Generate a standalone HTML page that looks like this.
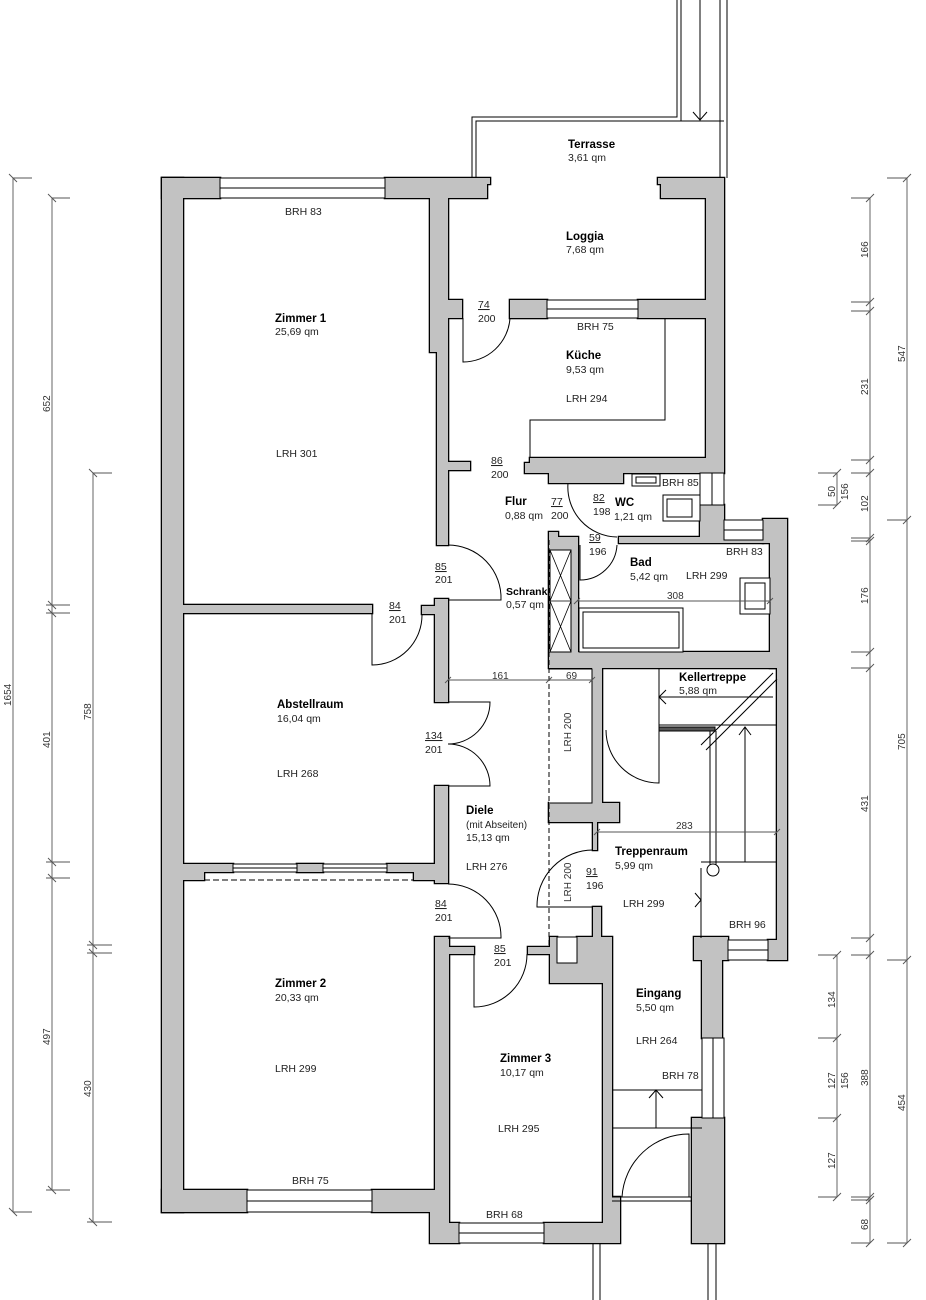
<!DOCTYPE html>
<html><head><meta charset="utf-8"><style>
html,body{margin:0;padding:0;background:#fff}
svg{display:block}
text{font-family:"Liberation Sans",sans-serif;font-size:10.5px;fill:#222}
.b{font-weight:bold;font-size:11.5px;fill:#000}
.d{font-size:10px;fill:#333}
</style></head><body>
<svg width="926" height="1300" viewBox="0 0 926 1300" xmlns="http://www.w3.org/2000/svg">
<defs>
<g id="walls">
<rect x="162" y="178" width="21" height="1034"/>
<rect x="162" y="178" width="58" height="20"/>
<polygon points="385,178 490,178 490,184 487,184 487,198 448,198 448,300 462,300 462,318 448,318 448,545 437,545 437,352 430,352 430,198 385,198"/>
<rect x="183" y="605" width="189" height="8"/>
<polygon points="435,599 448,599 448,702 435,702 435,614 422,614 422,606 435,606"/>
<polygon points="183,864 233,864 233,872 204,872 204,880 183,880"/>
<rect x="297" y="864" width="26" height="8"/>
<polygon points="387,864 435,864 435,786 448,786 448,883 435,883 435,880 414,880 414,872 387,872"/>
<polygon points="435,937 449,937 449,947 474,947 474,954 449,954 449,1223 459,1223 459,1243 430,1243 430,1212 372,1212 372,1190 435,1190"/>
<rect x="162" y="1190" width="85" height="22"/>
<polygon points="528,947 550,947 550,937 557,937 557,963 577,963 577,937 612,937 612,1197 620,1197 620,1243 544,1243 544,1223 603,1223 603,983 550,983 550,954 528,954"/>
<rect x="593" y="907" width="8" height="30"/>
<polygon points="694,937 728,937 728,960 722,960 722,1038 702,1038 702,960 694,960"/>
<rect x="692" y="1118" width="32" height="125"/>
<polygon points="763,519 787,519 787,960 768,960 768,940 777,940 777,668 770,668 770,543 763,543"/>
<polygon points="700,505 724,505 724,540 763,540 763,543 619,543 619,537 700,537"/>
<polygon points="658,178 724,178 724,473 623,473 623,483 549,483 549,473 525,473 525,463 530,463 530,458 706,458 706,318 638,318 638,300 706,300 706,198 661,198 661,184 658,184"/>
<rect x="510" y="300" width="37" height="18"/>
<rect x="448" y="462" width="22" height="8"/>
<polygon points="549,532 558,532 558,537 578,537 578,652 777,652 777,668 602,668 602,803 619,803 619,822 597,822 597,850 593,850 593,822 549,822 549,803 592,803 592,668 549,668"/>
</g>
</defs>
<g stroke="#000" stroke-width="2.6" fill="#c2c2c2"><use href="#walls"/></g>
<g fill="#c2c2c2"><use href="#walls"/></g>

<g fill="#fff" stroke="#000" stroke-width="1">
<!-- windows -->
<rect x="220" y="178" width="165" height="20"/>
<rect x="547" y="300" width="91" height="18"/>
<rect x="247" y="1190" width="125" height="22"/>
<rect x="459" y="1223" width="85" height="20"/>
<rect x="702" y="1038" width="22" height="80"/>
<rect x="700" y="473" width="24" height="32"/>
<rect x="724" y="520" width="39" height="20"/>
<rect x="728" y="940" width="40" height="20"/>
<rect x="233" y="864" width="64" height="8"/>
<rect x="323" y="864" width="64" height="8"/>
<!-- schrank & boxes -->
<rect x="550" y="550" width="21" height="102"/>
<rect x="557" y="937" width="20" height="26"/>
<rect x="579" y="608" width="104" height="44"/>
<rect x="583" y="612" width="96" height="36"/>
<rect x="740" y="578" width="30" height="36"/>
<rect x="745" y="583" width="20" height="26"/>
<rect x="632" y="474" width="28" height="12"/>
<rect x="636" y="477" width="20" height="6"/>
<rect x="663" y="495" width="37" height="26"/>
<rect x="667" y="499" width="25" height="18"/>
</g>
<rect x="549" y="669" width="43" height="134" fill="#fff" stroke="none"/>
<g stroke="#000" stroke-width="1" fill="none">
<line x1="220" y1="188" x2="385" y2="188"/>
<line x1="547" y1="309" x2="638" y2="309"/>
<line x1="247" y1="1201" x2="372" y2="1201"/>
<line x1="459" y1="1233" x2="544" y2="1233"/>
<line x1="713" y1="1038" x2="713" y2="1118"/>
<line x1="712" y1="473" x2="712" y2="505"/>
<line x1="724" y1="530" x2="763" y2="530"/>
<line x1="728" y1="950" x2="768" y2="950"/>
<line x1="233" y1="868" x2="297" y2="868"/>
<line x1="323" y1="868" x2="387" y2="868"/>
<polyline points="549,669 592,669 592,803 549,803"/>
<!-- schrank X -->
<path d="M550,550 L571,601 L550,652 M571,550 L550,601 L571,652 M550,601 H571" stroke-width="0.8"/>
<path d="M549,540 V945" stroke-dasharray="5,3" stroke-width="1"/>
<path d="M204,880 H414" stroke-dasharray="6,3"/>
<!-- terrace -->
<path d="M472,178 V117 H677 V0 M476,178 V121 H681 V0 M700,0 V121 M720,0 V178 M727,0 V178 M476,121 H724" stroke-width="1"/>
<path d="M693,112 L700,120 L707,112"/>
<!-- kitchen counter -->
<path d="M665,318 V420 H530 V458" stroke-width="1"/>
<!-- doors -->
<path d="M463,318 V362 A47,47 0 0 0 510,318"/>
<path d="M568,483 A50,50 0 0 0 617,537"/>
<path d="M617,545 A37,37 0 0 1 580,580 V545"/>
<path d="M448,545 A53,53 0 0 1 501,600 H448"/>
<path d="M372,613 V665 A50,50 0 0 0 422,614"/>
<path d="M448,702 H490 A42,42 0 0 1 448,744 A42,42 0 0 1 490,786 H448"/>
<path d="M448,884 A53,53 0 0 1 501,938 H448"/>
<path d="M474,954 V1007 A53,53 0 0 0 527,954"/>
<path d="M593,850 A56,56 0 0 0 537,907 H593"/>
<path d="M606,730 A53,53 0 0 0 659,783 V668"/>
<path d="M689,1197 V1134 A67,67 0 0 0 622,1197"/>
<path d="M612,1197 H692 M612,1201 H692 M612,1090 H702 M612,1128 H702 M656,1128 V1090 M649,1098 L656,1090 L663,1098"/>
<!-- kellertreppe -->
<path d="M659,697 H773 M666,690 L659,697 L666,704 M659,725 H777 M701,745 L773,673 M706,750 L777,679"/>
<rect x="659" y="727" width="56" height="4" fill="#555"/>
<path d="M710,731 V868 M716,731 V868 M745,727 V862 M739,735 L745,727 L751,735 M701,862 H777 M701,868 V938 M695,893 L701,900 L695,907"/>
<circle cx="713" cy="870" r="6" fill="#fff"/>
</g>
<!-- dimension lines -->
<g stroke="#555" stroke-width="0.9" fill="none">
<path d="M448,680 H592 M597,832 H777 M577,601 H770"/>
<path d="M445,683 l6,-6 M546,683 l6,-6 M589,683 l6,-6 M594,835 l6,-6 M774,835 l6,-6 M574,604 l6,-6 M767,604 l6,-6"/>
<path d="M13,178 V1212 M9,174 l8,8 M9,1208 l8,8 M13,178 H32 M13,1212 H32"/>
<path d="M52,198 V1190 M48,194 l8,8 M48,601 l8,8 M48,609 l8,8 M48,858 l8,8 M48,874 l8,8 M48,1186 l8,8 M52,198 H70 M46,605 H70 M46,613 H70 M46,862 H70 M46,878 H70 M46,1190 H70"/>
<path d="M93,473 V1222 M89,469 l8,8 M89,941 l8,8 M89,949 l8,8 M89,1218 l8,8 M93,473 H112 M87,945 H112 M87,953 H112 M87,1222 H112"/>
<path d="M907,178 V1243 M903,182 l8,-8 M903,524 l8,-8 M903,964 l8,-8 M903,1247 l8,-8 M887,178 H907 M887,520 H907 M887,960 H907 M887,1243 H907"/>
<path d="M870,198 V1243 M866,202 l8,-8 M866,306 l8,-8 M866,315 l8,-8 M866,464 l8,-8 M866,477 l8,-8 M866,542 l8,-8 M866,545 l8,-8 M866,656 l8,-8 M866,672 l8,-8 M866,942 l8,-8 M866,959 l8,-8 M866,1201 l8,-8 M866,1204 l8,-8 M866,1247 l8,-8"/>
<path d="M851,198 H870 M851,302 H870 M851,311 H870 M851,460 H870 M851,473 H870 M851,538 H870 M851,541 H870 M851,652 H870 M851,668 H870 M851,938 H870 M851,955 H870 M851,1197 H870 M851,1200 H870 M851,1243 H870"/>
<path d="M837,473 V505 M833,477 l8,-8 M833,509 l8,-8 M818,473 H837 M818,505 H837"/>
<path d="M837,955 V1197 M833,959 l8,-8 M833,1042 l8,-8 M833,1122 l8,-8 M833,1201 l8,-8 M818,955 H837 M818,1038 H837 M818,1118 H837 M818,1197 H837"/>
</g>
<g class="d">
<text class="d" transform="translate(11,706) rotate(-90)">1654</text>
<text class="d" transform="translate(50,412) rotate(-90)">652</text>
<text class="d" transform="translate(50,748) rotate(-90)">401</text>
<text class="d" transform="translate(50,1045) rotate(-90)">497</text>
<text class="d" transform="translate(91,720) rotate(-90)">758</text>
<text class="d" transform="translate(91,1097) rotate(-90)">430</text>
<text class="d" transform="translate(868,258) rotate(-90)">166</text>
<text class="d" transform="translate(868,395) rotate(-90)">231</text>
<text class="d" transform="translate(868,512) rotate(-90)">102</text>
<text class="d" transform="translate(868,604) rotate(-90)">176</text>
<text class="d" transform="translate(868,812) rotate(-90)">431</text>
<text class="d" transform="translate(868,1086) rotate(-90)">388</text>
<text class="d" transform="translate(868,1230) rotate(-90)">68</text>
<text class="d" transform="translate(905,362) rotate(-90)">547</text>
<text class="d" transform="translate(905,750) rotate(-90)">705</text>
<text class="d" transform="translate(905,1111) rotate(-90)">454</text>
<text class="d" transform="translate(835,497) rotate(-90)">50</text>
<text class="d" transform="translate(848,500) rotate(-90)">156</text>
<text class="d" transform="translate(835,1008) rotate(-90)">134</text>
<text class="d" transform="translate(835,1089) rotate(-90)">127</text>
<text class="d" transform="translate(848,1089) rotate(-90)">156</text>
<text class="d" transform="translate(835,1169) rotate(-90)">127</text>
<text class="d" transform="translate(571,752) rotate(-90)">LRH 200</text>
<text class="d" transform="translate(571,902) rotate(-90)">LRH 200</text>
</g>
<g>
<text class="b" x="568" y="148">Terrasse</text><text x="568" y="161">3,61 qm</text>
<text class="b" x="566" y="240">Loggia</text><text x="566" y="253">7,68 qm</text>
<text x="285" y="215">BRH 83</text>
<text class="b" x="275" y="322">Zimmer 1</text><text x="275" y="335">25,69 qm</text>
<text x="276" y="457">LRH 301</text>
<text x="478" y="308" text-decoration="underline">74</text><text x="478" y="322">200</text>
<text x="577" y="330">BRH 75</text>
<text class="b" x="566" y="359">Küche</text><text x="566" y="373">9,53 qm</text>
<text x="566" y="402">LRH 294</text>
<text x="491" y="464" text-decoration="underline">86</text><text x="491" y="478">200</text>
<text x="662" y="486">BRH 85</text>
<text class="b" x="505" y="505">Flur</text><text x="505" y="519">0,88 qm</text>
<text x="551" y="505" text-decoration="underline">77</text><text x="551" y="519">200</text>
<text x="593" y="501" text-decoration="underline">82</text><text x="593" y="515">198</text>
<text class="b" x="615" y="506">WC</text><text x="614" y="520">1,21 qm</text>
<text x="589" y="541" text-decoration="underline">59</text><text x="589" y="555">196</text>
<text class="b" x="630" y="566">Bad</text><text x="630" y="580">5,42 qm</text>
<text x="726" y="555">BRH 83</text><text x="686" y="579">LRH 299</text>
<text x="435" y="570" text-decoration="underline">85</text><text x="435" y="583">201</text>
<text class="b" x="506" y="595" style="font-size:10.5px">Schrank</text><text x="506" y="608">0,57 qm</text>
<text class="d" x="667" y="599">308</text>
<text x="389" y="609" text-decoration="underline">84</text><text x="389" y="623">201</text>
<text class="b" x="679" y="681">Kellertreppe</text><text x="679" y="694">5,88 qm</text>
<text class="d" x="492" y="679">161</text><text class="d" x="566" y="679">69</text>
<text class="b" x="277" y="708">Abstellraum</text><text x="277" y="722">16,04 qm</text>
<text x="277" y="777">LRH 268</text>
<text x="425" y="739" text-decoration="underline">134</text><text x="425" y="753">201</text>
<text class="b" x="466" y="814">Diele</text><text x="466" y="828" style="font-size:10px">(mit Abseiten)</text><text x="466" y="841">15,13 qm</text>
<text x="466" y="870">LRH 276</text>
<text class="d" x="676" y="829">283</text>
<text class="b" x="615" y="855">Treppenraum</text><text x="615" y="869">5,99 qm</text>
<text x="586" y="875" text-decoration="underline">91</text><text x="586" y="889">196</text>
<text x="623" y="907">LRH 299</text>
<text x="435" y="907" text-decoration="underline">84</text><text x="435" y="921">201</text>
<text x="729" y="928">BRH 96</text>
<text x="494" y="952" text-decoration="underline">85</text><text x="494" y="966">201</text>
<text class="b" x="275" y="987">Zimmer 2</text><text x="275" y="1001">20,33 qm</text>
<text x="275" y="1072">LRH 299</text>
<text class="b" x="636" y="997">Eingang</text><text x="636" y="1011">5,50 qm</text>
<text x="636" y="1044">LRH 264</text>
<text class="b" x="500" y="1062">Zimmer 3</text><text x="500" y="1076">10,17 qm</text>
<text x="662" y="1079">BRH 78</text>
<text x="498" y="1132">LRH 295</text>
<text x="292" y="1184">BRH 75</text>
<text x="486" y="1218">BRH 68</text>
</g>
<g stroke="#000" stroke-width="1"><path d="M593,1243 V1300 M600,1243 V1300 M708,1243 V1300 M716,1243 V1300"/></g>
</svg>
</body></html>
